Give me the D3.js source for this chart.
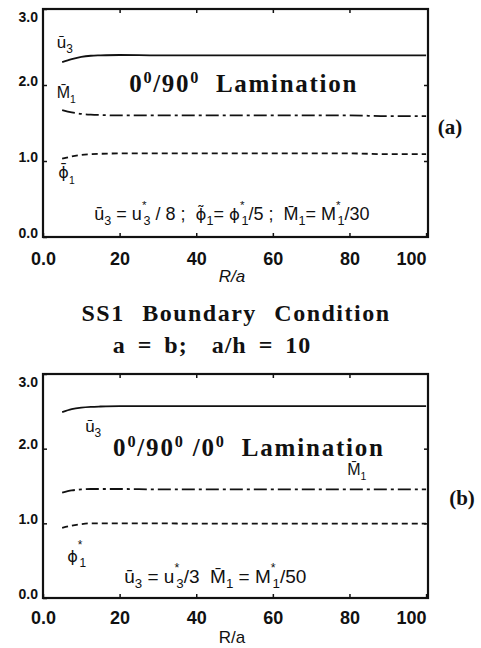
<!DOCTYPE html>
<html>
<head>
<meta charset="utf-8">
<script src="https://cdn.jsdelivr.net/npm/d3@7/dist/d3.min.js"></script>
<style>
  body { margin: 0; background: #fff; }
  svg { display: block; }
  .tick line { stroke: #111; stroke-width: 1.5; }
</style>
</head>
<body>
<div id="chart"></div>
<script>
// ---- data
var R = [5, 7.5, 10, 12.5, 15, 20, 30, 40, 50, 60, 70, 80, 90, 100];
// (a) 0/90
var u3A  = [2.30, 2.34, 2.37, 2.385, 2.39, 2.395, 2.39, 2.39, 2.39, 2.39, 2.39, 2.39, 2.39, 2.39];
var m1A  = [1.67, 1.64, 1.62, 1.61, 1.605, 1.60, 1.60, 1.60, 1.60, 1.60, 1.60, 1.60, 1.59, 1.59];
var phiA = [1.03, 1.06, 1.08, 1.09, 1.095, 1.10, 1.10, 1.10, 1.10, 1.10, 1.10, 1.10, 1.09, 1.09];
// (b) 0/90/0
var u3B  = [2.49, 2.53, 2.55, 2.56, 2.565, 2.57, 2.57, 2.57, 2.57, 2.57, 2.57, 2.57, 2.57, 2.57];
var m1B  = [1.41, 1.44, 1.455, 1.46, 1.46, 1.46, 1.455, 1.455, 1.455, 1.455, 1.455, 1.455, 1.455, 1.455];
var phiB = [0.94, 0.97, 0.99, 1.00, 1.00, 1.00, 1.00, 0.995, 0.995, 0.995, 0.995, 0.995, 0.995, 0.995];

var yTicks = [0, 1, 2, 3];
var yTickLabels = ["0.0", "1.0", "2.0", "3.0"];
var xTicks = [0, 20, 40, 60, 80, 100];
var xTickLabels = ["0.0", "20", "40", "60", "80", "100"];

var width = 481, height = 648;
var ink = "#111";
var serif = "'Liberation Serif', 'Times New Roman', serif";
var sans = "'Liberation Sans', Arial, sans-serif";
var greek = "'DejaVu Sans', sans-serif";

var svg = d3.select("#chart").append("svg")
  .attr("width", width)
  .attr("height", height);

// writes a text with sub/superscripts; parts: {t, off, s, dx, f}
function rich(g, px, py, parts, size, family, weight) {
  var txt = g.append("text")
    .attr("x", px).attr("y", py)
    .attr("font-family", family)
    .attr("font-weight", weight || "normal")
    .attr("font-size", size)
    .attr("fill", ink)
    .attr("xml:space", "preserve");
  var prev = 0;
  parts.forEach(function(p) {
    var off = p.off || 0;
    var ts = txt.append("tspan")
      .attr("dy", off - prev)
      .attr("dx", p.dx || 0)
      .attr("font-size", size * (p.s || 1))
      .text(p.t);
    if (p.f) ts.attr("font-family", p.f);
    prev = off;
  });
  return txt;
}

function panel(cfg) {
  var x = d3.scaleLinear().domain([0, 100.5]).range([43, 428]);
  var y = d3.scaleLinear().domain([0, 3]).range([cfg.bottom, cfg.top]);
  var g = svg.append("g");

  // frame
  g.append("rect")
    .attr("x", x(0)).attr("y", y(3))
    .attr("width", x(100.5) - x(0)).attr("height", y(0) - y(3))
    .attr("fill", "none").attr("stroke", ink).attr("stroke-width", 2.2);

  // left axis, ticks pointing inward
  var left = g.append("g")
    .attr("transform", "translate(" + x(0) + ",0)")
    .call(d3.axisLeft(y).tickValues(yTicks).tickSize(-4).tickPadding(5)
      .tickFormat(function(d, i) { return yTickLabels[i]; }));
  left.select(".domain").remove();
  left.selectAll("text")
    .attr("font-family", sans).attr("font-weight", "bold").attr("font-size", 14)
    .attr("fill", ink)
    .attr("dy", function(d) { return d == 3 ? "0.9em" : "0.0em"; });

  var right = g.append("g")
    .attr("transform", "translate(" + x(100.5) + ",0)")
    .call(d3.axisRight(y).tickValues([1, 2]).tickSize(-4).tickFormat(""));
  right.select(".domain").remove();

  var bottom = g.append("g")
    .attr("transform", "translate(0," + y(0) + ")")
    .call(d3.axisBottom(x).tickValues(xTicks).tickSize(-4).tickPadding(cfg.xPad)
      .tickFormat(function(d, i) { return xTickLabels[i]; }));
  bottom.select(".domain").remove();
  bottom.selectAll("text")
    .attr("font-family", sans).attr("font-weight", "bold").attr("font-size", 18)
    .attr("fill", ink)
    .attr("text-anchor", function(d) { return d == 100 ? "end" : "middle"; });

  var top = g.append("g")
    .attr("transform", "translate(0," + y(3) + ")")
    .call(d3.axisTop(x).tickValues([20, 40, 60, 80]).tickSize(-4).tickFormat(""));
  top.select(".domain").remove();

  g.append("text")
    .attr("x", 232).attr("y", y(0) + cfg.labelDy)
    .attr("text-anchor", "middle")
    .attr("font-family", sans).attr("font-size", 17)
    .attr("font-style", cfg.italic ? "italic" : "normal")
    .attr("fill", ink)
    .text("R/a");

  var line = d3.line()
    .x(function(d, i) { return x(R[i]); })
    .y(function(d) { return y(d); })
    .curve(d3.curveMonotoneX);

  var styles = [
    { data: cfg.u3, dash: null },
    { data: cfg.m1, dash: "13,4,3,4" },
    { data: cfg.phi, dash: "6,4" }
  ];
  styles.forEach(function(s) {
    g.append("path")
      .datum(s.data)
      .attr("d", line)
      .attr("fill", "none")
      .attr("stroke", ink)
      .attr("stroke-width", 1.8)
      .attr("stroke-dasharray", s.dash);
  });

  return { g: g, x: x, y: y };
}

// ---------------- panel (a)
var a = panel({ top: 9, bottom: 237, u3: u3A, m1: m1A, phi: phiA, xPad: 15, labelDy: 45, italic: true });

rich(a.g, a.x(3.6), a.y(2.49), [
  { t: "ū" }, { t: "3", off: 5, s: 0.7 }
], 17, sans);
rich(a.g, a.x(3.6), a.y(1.83), [
  { t: "M\u0304" }, { t: "1", off: 5, s: 0.65 }
], 16, sans);
rich(a.g, a.x(4.0), a.y(0.78), [
  { t: "ϕ\u0304", f: greek }, { t: "1", off: 6, s: 0.65 }
], 16, sans);

rich(a.g, a.x(22.5), a.y(1.91), [
  { t: "0" }, { t: "0", off: -9, s: 0.65 }, { t: "/90" }, { t: "0", off: -9, s: 0.65 },
  { t: "  Lamination" }
], 25, serif, "bold").attr("letter-spacing", 1.7);

rich(a.g, a.x(13.4), a.y(0.22), [
  { t: "ū" }, { t: "3", off: 5, s: 0.7 }, { t: " = u" },
  { t: "*", off: -11, s: 0.65 }, { t: "3", off: 5, s: 0.7, dx: -3 },
  { t: " / 8 ;  " }, { t: "ϕ\u0303", f: greek, s: 0.92 }, { t: "1", off: 5, s: 0.7 },
  { t: "= " }, { t: "ϕ", f: greek, s: 0.92 },
  { t: "*", off: -11, s: 0.65 }, { t: "1", off: 5, s: 0.7, dx: -3 },
  { t: "/5 ;  M\u0304" }, { t: "1", off: 5, s: 0.7 }, { t: "= M" },
  { t: "*", off: -11, s: 0.65 }, { t: "1", off: 5, s: 0.7, dx: -3 },
  { t: "/30" }
], 18, sans);

svg.append("text")
  .attr("x", 450).attr("y", 134)
  .attr("text-anchor", "middle")
  .attr("font-family", serif).attr("font-weight", "bold").attr("font-size", 21)
  .attr("fill", ink)
  .text("(a)");

// ---------------- middle caption
svg.append("text")
  .attr("x", 236).attr("y", 321)
  .attr("text-anchor", "middle")
  .attr("font-family", serif).attr("font-weight", "bold").attr("font-size", 24)
  .attr("letter-spacing", 1.5)
  .attr("word-spacing", 10)
  .attr("fill", ink)
  .text("SS1 Boundary Condition");

svg.append("text")
  .attr("x", 212).attr("y", 353)
  .attr("text-anchor", "middle")
  .attr("font-family", serif).attr("font-weight", "bold").attr("font-size", 24)
  .attr("letter-spacing", 1)
  .attr("word-spacing", 5)
  .attr("xml:space", "preserve")
  .attr("fill", ink)
  .text("a = b;  a/h = 10");

// ---------------- panel (b)
var b = panel({ top: 374, bottom: 598, u3: u3B, m1: m1B, phi: phiB, xPad: 13, labelDy: 45, italic: false });

rich(b.g, b.x(11), b.y(2.22), [
  { t: "ū" }, { t: "3", off: 5, s: 0.7 }
], 17, sans);

rich(b.g, b.x(18.3), b.y(1.90), [
  { t: "0" }, { t: "0", off: -9, s: 0.65 }, { t: "/90" }, { t: "0", off: -9, s: 0.65 },
  { t: " /0" }, { t: "0", off: -9, s: 0.65 },
  { t: "  Lamination" }
], 25, serif, "bold").attr("letter-spacing", 1.8);

rich(b.g, b.x(79.4), b.y(1.65), [
  { t: "M\u0304" }, { t: "1", off: 5, s: 0.65 }
], 16, sans);

rich(b.g, b.x(6.3), b.y(0.48), [
  { t: "ϕ", f: greek, s: 0.95 }, { t: "*", off: -13, s: 0.7 }, { t: "1", off: 5, s: 0.7, dx: -3 }
], 17, sans);

rich(b.g, b.x(21.2), b.y(0.2), [
  { t: "ū" }, { t: "3", off: 5, s: 0.7 }, { t: " = u" },
  { t: "*", off: -11, s: 0.65 }, { t: "3", off: 5, s: 0.7, dx: -3 },
  { t: "/3  M\u0304" }, { t: "1", off: 5, s: 0.7 }, { t: " = M" },
  { t: "*", off: -11, s: 0.65 }, { t: "1", off: 5, s: 0.7, dx: -3 },
  { t: "/50" }
], 19, sans);

svg.append("text")
  .attr("x", 462).attr("y", 505)
  .attr("text-anchor", "middle")
  .attr("font-family", serif).attr("font-weight", "bold").attr("font-size", 21)
  .attr("fill", ink)
  .text("(b)");
</script>
</body>
</html>
